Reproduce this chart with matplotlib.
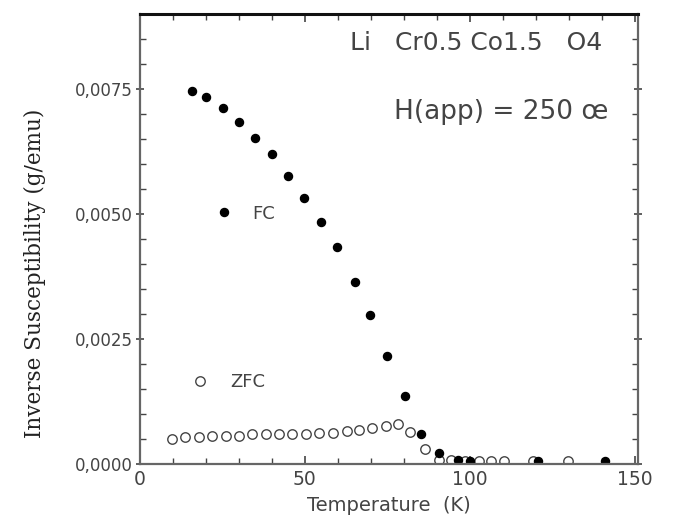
import matplotlib
matplotlib.use("Agg")
import matplotlib.pyplot as plt
from matplotlib.ticker import MultipleLocator, FuncFormatter
from matplotlib.lines import Line2D

# field cooled data (filled circles)
fc_temp = [15.8, 20.1, 25.1, 29.9, 34.8, 40.0, 44.9, 49.8, 54.8, 59.8,
           65.2, 69.6, 74.9, 80.4, 85.2, 90.7, 96.3, 100.0, 120.7, 141.0]
fc_inv = [0.00745, 0.00733, 0.00711, 0.00684, 0.00652, 0.00619, 0.00577,
          0.00532, 0.00485, 0.00435, 0.00365, 0.00299, 0.00216, 0.00136,
          0.00061, 0.00023, 0.00009, 0.00007, 0.00006, 0.00006]

# zero field cooled data (open circles)
zfc_temp = [9.6, 13.6, 17.9, 21.9, 26.0, 30.0, 34.0, 38.1, 42.1, 46.2,
            50.3, 54.3, 58.4, 62.9, 66.5, 70.2, 74.5, 78.3, 81.8, 86.4,
            90.7, 94.2, 98.5, 102.7, 106.4, 110.3, 119.2, 129.8]
zfc_inv = [0.00051, 0.00055, 0.00055, 0.00057, 0.00057, 0.00057, 0.00060,
           0.00060, 0.00060, 0.00060, 0.00060, 0.00063, 0.00063, 0.00066,
           0.00069, 0.00073, 0.00076, 0.00081, 0.00065, 0.00031,
           0.00009, 0.00009, 0.00007, 0.00007, 0.00007, 0.00007, 0.00007, 0.00007]

grey = "#444444"

fig = plt.figure(figsize=(6.74, 5.3), dpi=100)
ax = fig.add_axes([0.2077, 0.1245, 0.7389, 0.8491])

ax.plot(zfc_temp, zfc_inv, 'o', ls='none', ms=6.8, mfc='white', mec='#444444', mew=1.0)
ax.plot(fc_temp, fc_inv, 'o', ls='none', ms=5.8, mfc='black', mec='black')

ax.set_xlim(0, 151)
ax.set_ylim(0, 0.009)

ax.xaxis.set_major_locator(MultipleLocator(50))
ax.xaxis.set_minor_locator(MultipleLocator(10))
ax.yaxis.set_major_locator(MultipleLocator(0.0025))
ax.yaxis.set_minor_locator(MultipleLocator(0.0005))
ax.yaxis.set_major_formatter(FuncFormatter(lambda v, p: f"{v:.4f}".replace('.', ',')))

ax.tick_params(which='both', direction='in', top=True, right=True, colors=grey,
               labelsize=12, labelcolor=grey)
ax.tick_params(axis='x', labelsize=13.5, pad=4)
ax.tick_params(which='major', length=6, width=1.2)
ax.tick_params(which='minor', length=4, width=1.0)
ax.tick_params(axis='y', which='major', direction='inout', pad=2)
for name, sp in ax.spines.items():
    sp.set_color('#666666')
    sp.set_linewidth(1.6)
ax.spines['top'].set_color('#111111')
ax.spines['top'].set_linewidth(2.2)

ax.set_xlabel('Temperature  (K)', fontsize=14, color=grey, labelpad=5)
fig.text(0.052, 0.485, 'Inverse Susceptibility (g/emu)', rotation=90,
         ha='center', va='center', fontsize=15.5, family='DejaVu Serif', color='#222222')

ax.text(0.422, 0.936, 'Li   Cr0.5 Co1.5   O4', transform=ax.transAxes,
        fontsize=18, color=grey, va='center', ha='left')
ax.text(0.51, 0.782, 'H(app) = 250 œ', transform=ax.transAxes,
        fontsize=19, color=grey, va='center', ha='left')

fc_key = Line2D([], [], marker='o', ls='none', ms=5.8, mfc='black', mec='black')
zfc_key = Line2D([], [], marker='o', ls='none', ms=6.8, mfc='white', mec='#444444')
leg1 = ax.legend([fc_key], ['FC'], loc='center left', bbox_to_anchor=(0.146, 0.556),
                 frameon=False, fontsize=13, handlelength=1.2, handletextpad=1.0,
                 borderpad=0, borderaxespad=0, labelcolor=grey)
ax.add_artist(leg1)
ax.legend([zfc_key], ['ZFC'], loc='center left', bbox_to_anchor=(0.098, 0.182),
          frameon=False, fontsize=13, handlelength=1.2, handletextpad=1.1,
          borderpad=0, borderaxespad=0, labelcolor=grey)

fig.savefig('out.png', dpi=100)
